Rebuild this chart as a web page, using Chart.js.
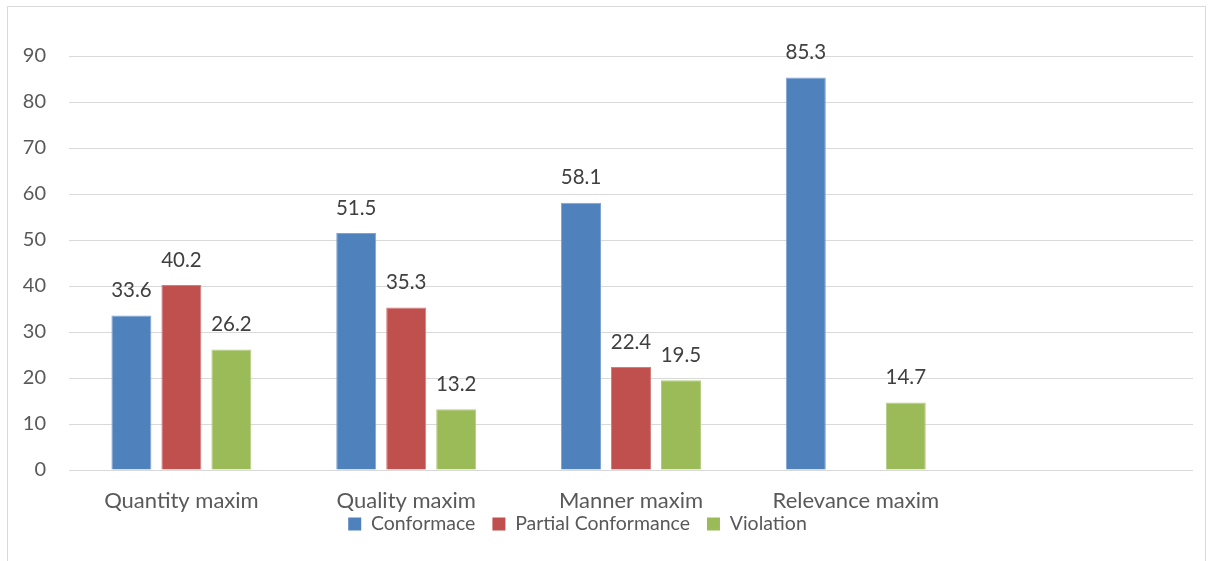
<!DOCTYPE html>
<html>
<head>
<meta charset="utf-8">
<script src="https://cdn.jsdelivr.net/npm/chart.js@4.4.1/dist/chart.umd.min.js"></script>
<style>
  html, body { margin: 0; padding: 0; background: #ffffff; }
  body { width: 1213px; height: 561px; position: relative; overflow: hidden; }
  #frame {
    position: absolute; left: 7px; top: 6px; width: 1199px; height: 620px;
    border: 1px solid #d9d9d9; box-sizing: border-box;
  }
  #chart { position: absolute; left: 0; top: 0; }
</style>
</head>
<body>
<div id="frame"></div>
<canvas id="chart" width="1213" height="561"></canvas>
<script>
// Maxim categories (the fifth slot is left empty on the axis)
const categories = ['Quantity maxim', 'Quality maxim', 'Manner maxim', 'Relevance maxim', ''];

// Percentages per maxim
const conformance        = [33.6, 51.5, 58.1, 85.3, null];
const partialConformance = [40.2, 35.3, 22.4, null, null];
const violation          = [26.2, 13.2, 19.5, 14.7, null];

const seriesNames = ['Conformace', 'Partial Conformance', 'Violation'];
const yTicks = [0, 10, 20, 30, 40, 50, 60, 70, 80, 90];

const FONT = 'Lato, "Open Sans", "Liberation Sans", sans-serif';
const AXIS_TEXT = '#595959';
const LABEL_TEXT = '#404040';
const GRID = '#d9d9d9';
const LEGEND_PAD = 17;
const LEGEND_FONT = 19.5;

// Values written above every bar
const valueLabels = {
  id: 'valueLabels',
  afterDatasetsDraw(chart) {
    const ctx = chart.ctx;
    ctx.save();
    ctx.font = '20.5px ' + FONT;
    ctx.fillStyle = LABEL_TEXT;
    ctx.textAlign = 'center';
    ctx.textBaseline = 'middle';
    chart.data.datasets.forEach((ds, i) => {
      const meta = chart.getDatasetMeta(i);
      meta.data.forEach((bar, j) => {
        const v = ds.data[j];
        if (v === null || v === undefined) return;
        ctx.fillText(v.toFixed(1), bar.x, bar.y - 25);
      });
    });
    ctx.restore();
  }
};

// Place the legend row just under the category names, a little left of centre
const legendPlace = {
  id: 'legendPlace',
  afterLayout(chart) {
    const lg = chart.legend;
    if (!lg) return;
    const h = lg.bottom - lg.top;
    lg.left -= 19;
    lg.right -= 19;
    lg.top = 524 - LEGEND_PAD - LEGEND_FONT / 2;
    lg.bottom = lg.top + h;
  }
};

new Chart(document.getElementById('chart'), {
  type: 'bar',
  data: {
    labels: categories,
    datasets: [
      { label: seriesNames[0], data: conformance,
        backgroundColor: '#4f81bd', borderColor: '#7fa3d1', borderWidth: 1 },
      { label: seriesNames[1], data: partialConformance,
        backgroundColor: '#c0504d', borderColor: '#d27d7b', borderWidth: 1 },
      { label: seriesNames[2], data: violation,
        backgroundColor: '#9bbb59', borderColor: '#b3cc80', borderWidth: 1 }
    ]
  },
  options: {
    responsive: false,
    animation: false,
    devicePixelRatio: 1,
    layout: { padding: { top: 56, left: 0, right: 20, bottom: 0 } },
    datasets: { bar: { categoryPercentage: 0.667, barPercentage: 0.8 } },
    plugins: {
      title: { display: false },
      tooltip: { enabled: false },
      legend: {
        position: 'bottom',
        align: 'center',
        labels: {
          boxWidth: 13,
          boxHeight: 13,
          padding: LEGEND_PAD,
          color: AXIS_TEXT,
          font: { family: FONT, size: LEGEND_FONT },
          generateLabels(chart) {
            return chart.data.datasets.map((ds, i) => ({
              text: ds.label,
              fillStyle: ds.backgroundColor,
              strokeStyle: ds.backgroundColor,
              lineWidth: 0,
              fontColor: AXIS_TEXT,
              datasetIndex: i,
              hidden: false
            }));
          }
        }
      }
    },
    scales: {
      x: {
        grid: { display: false, drawTicks: false },
        border: { display: false },
        ticks: {
          color: AXIS_TEXT,
          font: { family: FONT, size: 22 },
          padding: 18,
          maxRotation: 0,
          autoSkip: false
        },
        afterFit(scale) { scale.height = 44.5; }
      },
      y: {
        min: 0,
        max: 90,
        afterBuildTicks(scale) { scale.ticks = yTicks.map(v => ({ value: v })); },
        grid: { color: GRID, lineWidth: 1, drawTicks: false },
        border: { display: false },
        ticks: {
          color: AXIS_TEXT,
          font: { family: FONT, size: 20 },
          padding: 23
        },
        afterFit(scale) { scale.width = 69; }
      }
    }
  },
  plugins: [valueLabels, legendPlace]
});
</script>
</body>
</html>
